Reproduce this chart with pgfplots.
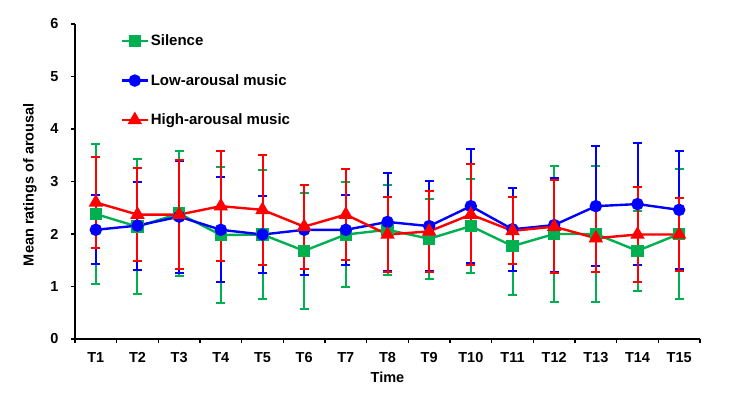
\documentclass[border=0pt]{standalone}
\usepackage{pgfplots}
\pgfplotsset{compat=1.18}
\usepackage{fontspec}
\setmainfont{Liberation Sans}
\definecolor{sgreen}{RGB}{0,176,80}
\definecolor{lblue}{RGB}{0,0,255}
\definecolor{hred}{RGB}{255,0,0}
\begin{document}
\begin{tikzpicture}
\useasboundingbox (-75pt,-60pt) rectangle (667pt,339pt);
\begin{axis}[
  scale only axis, width=625pt, height=315pt,
  xmin=0.5, xmax=15.5, ymin=0, ymax=6,
  axis x line*=bottom, axis y line*=left,
  axis line style={-, line width=1.6pt},
  tick align=outside, major tick length=4pt,
  tick style={line width=1.4pt, black},
  xtick={0.5,1.5,...,15.5},
  xticklabels={T1,T2,T3,T4,T5,T6,T7,T8,T9,T10,T11,T12,T13,T14,T15,{}},
  xticklabel style={xshift=20.83pt, yshift=-6pt},
  yticklabel style={xshift=-9pt},
  ytick={0,1,...,6},
  /pgf/number format/assume math mode=true,
  ticklabel style={font=\fontsize{14.5}{16}\selectfont\bfseries},
  label style={font=\fontsize{14.5}{16}\selectfont\bfseries},
  xlabel={Time}, ylabel={Mean ratings of arousal},
  xlabel style={at={(axis description cs:0.5,-0.1206)}, anchor=center},
  ylabel style={at={(axis description cs:-0.072,0.49)}, anchor=center},
  legend style={draw=none, fill=none, at={(axis description cs:0.073,0.972)}, anchor=north west,
    row sep=23pt, font=\fontsize{15}{17}\selectfont\bfseries, inner sep=0pt},
  legend cell align=left,
  legend image code/.code={\draw[mark repeat=2,mark phase=2] plot coordinates {(0cm,0cm) (0.45cm,0cm) (0.9cm,0cm)};},
  every axis plot/.append style={line width=2.4pt},
  error bars/y dir=both, error bars/y explicit,
  error bars/error bar style={line width=2pt, solid},
  error bars/error mark options={rotate=90, mark size=4.6pt, line width=2pt},
]
\addplot[color=sgreen, mark=square*, mark size=5pt, mark options={solid}] coordinates {
 (1,2.38) +- (0,1.33)
 (2,2.14) +- (0,1.28)
 (3,2.39) +- (0,1.19)
 (4,1.98) +- (0,1.29)
 (5,1.99) +- (0,1.23)
 (6,1.68) +- (0,1.11)
 (7,1.99) +- (0,1.00)
 (8,2.08) +- (0,0.86)
 (9,1.91) +- (0,0.76)
 (10,2.15) +- (0,0.89)
 (11,1.77) +- (0,0.93)
 (12,2.00) +- (0,1.29)
 (13,2.00) +- (0,1.29)
 (14,1.68) +- (0,0.76)
 (15,2.00) +- (0,1.23)
};
\addlegendentry{Silence}
\addplot[color=lblue, mark=*, mark size=5pt, mark options={solid}] coordinates {
 (1,2.08) +- (0,0.66)
 (2,2.16) +- (0,0.84)
 (3,2.33) +- (0,1.07)
 (4,2.08) +- (0,1.00)
 (5,1.99) +- (0,0.74)
 (6,2.08) +- (0,0.86)
 (7,2.08) +- (0,0.67)
 (8,2.23) +- (0,0.94)
 (9,2.15) +- (0,0.86)
 (10,2.53) +- (0,1.08)
 (11,2.09) +- (0,0.79)
 (12,2.17) +- (0,0.89)
 (13,2.53) +- (0,1.14)
 (14,2.57) +- (0,1.16)
 (15,2.46) +- (0,1.13)
};
\addlegendentry{Low-arousal music}
\addplot[color=hred, mark=triangle*, mark size=6pt, mark options={solid}] coordinates {
 (1,2.60) +- (0,0.86)
 (2,2.37) +- (0,0.88)
 (3,2.37) +- (0,1.04)
 (4,2.53) +- (0,1.05)
 (5,2.46) +- (0,1.05)
 (6,2.14) +- (0,0.80)
 (7,2.37) +- (0,0.87)
 (8,1.99) +- (0,0.71)
 (9,2.05) +- (0,0.77)
 (10,2.37) +- (0,0.96)
 (11,2.06) +- (0,0.64)
 (12,2.14) +- (0,0.88)
 (13,1.92) +- (0,0.64)
 (14,1.99) +- (0,0.91)
 (15,1.99) +- (0,0.70)
};
\addlegendentry{High-arousal music}
\end{axis}
\end{tikzpicture}
\end{document}
